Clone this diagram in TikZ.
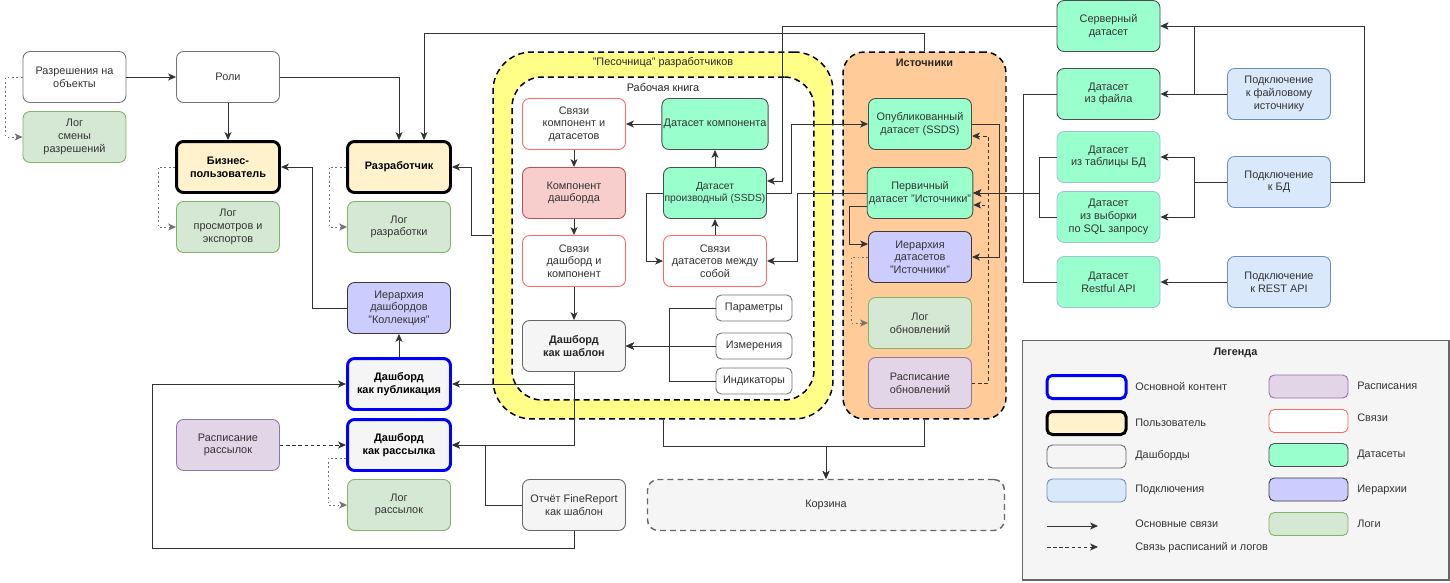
\documentclass[tikz,border=0pt]{standalone}
\usepackage{fontspec}
\setmainfont{Liberation Sans}
\usetikzlibrary{arrows.meta}

\definecolor{dsgreen}{HTML}{99FFCC}
\definecolor{dslightline}{HTML}{9DC3D9}
\definecolor{loggreen}{HTML}{D5E8D4}
\definecolor{logline}{HTML}{82B366}
\definecolor{schedpurple}{HTML}{E1D5E7}
\definecolor{schedline}{HTML}{9673A6}
\definecolor{hierblue}{HTML}{CCCCFF}
\definecolor{hierline}{HTML}{36393D}
\definecolor{connblue}{HTML}{DAE8FC}
\definecolor{connline}{HTML}{6C8EBF}
\definecolor{dashgray}{HTML}{F5F5F5}
\definecolor{dashline}{HTML}{666666}
\definecolor{useryellow}{HTML}{FFF2CC}
\definecolor{linkred}{HTML}{FF6666}
\definecolor{comppink}{HTML}{F8CECC}
\definecolor{compline}{HTML}{B85450}
\definecolor{sandyellow}{HTML}{FFFF88}
\definecolor{srcorange}{HTML}{FFCC99}
\definecolor{mainblue}{HTML}{0000FF}

\newcommand{\dgfont}{\fontsize{6.2}{7.2}\selectfont}

\tikzset{
    >={Stealth[length=4.5pt,width=4pt,inset=1.2pt]},
    box/.style={rounded corners=4pt, minimum width=2.06cm, minimum height=1.02cm,
        align=center, inner sep=1pt, font=\dgfont, text=black!80, line width=0.5pt},
    plainbox/.style={box, draw=black!55, fill=white},
    userbox/.style={box, draw=black, line width=1.7pt, fill=useryellow, font=\dgfont\bfseries, text=black},
    mainbox/.style={box, draw=mainblue, line width=1.7pt, fill=dashgray, font=\dgfont\bfseries, text=black},
    dashbox/.style={box, draw=dashline, fill=dashgray},
    logbox/.style={box, draw=logline, fill=loggreen},
    schedbox/.style={box, draw=schedline, fill=schedpurple},
    hierbox/.style={box, draw=hierline, fill=hierblue},
    databox/.style={box, draw=black!70, fill=dsgreen},
    databoxl/.style={box, draw=dslightline, fill=dsgreen},
    connbox/.style={box, draw=connline, fill=connblue},
    linkbox/.style={box, draw=linkred, fill=white},
    compbox/.style={box, draw=compline, fill=comppink},
    smallbox/.style={box, draw=black!55, fill=white, minimum width=1.52cm, minimum height=0.52cm, rounded corners=3pt},
    groupbox/.style={draw=black, line width=0.85pt, dash pattern=on 3.4pt off 2.3pt},
    grouptitle/.style={font=\dgfont, text=black!85, inner sep=1pt},
    link/.style={draw=black!80, line width=0.5pt},
    loglink/.style={draw=black!55, line width=0.5pt, dash pattern=on 1pt off 1.5pt},
    schedlink/.style={draw=black!80, line width=0.5pt, dash pattern=on 2pt off 1.5pt},
    legsw/.style={minimum width=1.58cm, minimum height=0.46cm, rounded corners=3pt},
    legtext/.style={anchor=west, font=\dgfont, text=black!80, inner sep=0pt},
}

\begin{document}
\begin{tikzpicture}[x=0.02cm, y=-0.02cm]
        \useasboundingbox (0,0) rectangle (1450,582);

        % Groups: sandbox, workbook, sources
        \node[groupbox, fill=sandyellow, rounded corners=22pt, minimum width=6.8cm, minimum height=7.34cm] (sandbox) at (663,235.5) {};
        \node[groupbox, fill=white, rounded corners=17pt, minimum width=6.04cm, minimum height=6.46cm] (workbook) at (663,238.5) {};
        \node[groupbox, fill=srcorange, rounded corners=12pt, minimum width=3.26cm, minimum height=7.34cm] (sources) at (924.5,235.5) {};
        \node[grouptitle] (sandboxtitle) at (663,63) {"Песочница" разработчиков};
        \node[grouptitle] (wbtitle) at (663,88) {Рабочая книга};
        \node[grouptitle, font=\dgfont\bfseries] (srctitle) at (924.5,63) {Источники};

        % Legend frame
        \node[draw=dashline, fill=dashgray, line width=0.6pt, minimum width=8.54cm, minimum height=4.8cm] (legend) at (1235.5,460) {};
        \node[grouptitle, font=\dgfont\bfseries] (legtitle) at (1235.5,353) {Легенда};

        % Roles and users
        \node[plainbox] (perm) at (74.5,77) {Разрешения на\\объекты};
        \node[logbox] (logperm) at (74.5,137) {Лог\\смены\\разрешений};
        \node[plainbox] (roles) at (228,77) {Роли};
        \node[userbox] (bizuser) at (228,167) {Бизнес-\\пользователь};
        \node[logbox] (logview) at (228,227) {Лог\\просмотров и\\экспортов};
        \node[userbox] (dev) at (399,167) {Разработчик};
        \node[logbox] (logdev) at (399,227) {Лог\\разработки};

        % Dashboards
        \node[hierbox] (collhier) at (399,308) {Иерархия\\дашбордов\\"Коллекция"};
        \node[mainbox] (dpub) at (399,384) {Дашборд\\как публикация};
        \node[mainbox] (dmail) at (399,445) {Дашборд\\как рассылка};
        \node[logbox] (logmail) at (399,505) {Лог\\рассылок};
        \node[schedbox] (schedmail) at (228,445) {Расписание\\рассылок};
        \node[dashbox] (frep) at (574,505) {Отчёт FineReport\\как шаблон};
        \node[dashbox, draw=dashline, line width=0.8pt, dash pattern=on 3.4pt off 2.3pt, rounded corners=6pt, minimum width=7.14cm] (trash) at (826,505) {Корзина};

        % Workbook content
        \node[linkbox] (linkcd) at (574,124) {Связи\\компонент и\\датасетов};
        \node[compbox] (compdash) at (574,193) {Компонент\\дашборда};
        \node[linkbox] (linkdc) at (574,261) {Связи\\дашборд и\\компонент};
        \node[dashbox, font=\dgfont\bfseries, text=black!85] (dtempl) at (574,346) {Дашборд\\как шаблон};
        \node[databox] (dscomp) at (715,124) {Датасет компонента};
        \node[databox, font=\fontsize{5.85}{7.2}\selectfont, inner sep=0pt] (dsderiv) at (715,193) {Датасет\\производный (SSDS)};
        \node[linkbox] (linkds) at (715,261) {Связи\\датасетов между\\собой};
        \node[smallbox] (params) at (754,308) {Параметры};
        \node[smallbox] (dims) at (754,346) {Измерения};
        \node[smallbox] (inds) at (754,381) {Индикаторы};

        % Sources content
        \node[databox] (dspub) at (920,124) {Опубликованный\\датасет (SSDS)};
        \node[databox] (dsprim) at (920,193) {Первичный\\датасет "Источники"};
        \node[hierbox] (dshier) at (920,257) {Иерархия\\датасетов\\"Источники"};
        \node[logbox] (logupd) at (920,323) {Лог\\обновлений};
        \node[schedbox] (schedupd) at (920,383) {Расписание\\обновлений};

        % External datasets and connections
        \node[databox] (dsserv) at (1108.5,26) {Серверный\\датасет};
        \node[databox] (dsfile) at (1108.5,94) {Датасет\\из файла};
        \node[databoxl] (dstable) at (1108.5,157) {Датасет\\из таблицы БД};
        \node[databoxl] (dssql) at (1108.5,217) {Датасет\\из выборки\\по SQL запросу};
        \node[databoxl] (dsrest) at (1108.5,282) {Датасет\\Restful API};
        \node[connbox] (cnfile) at (1279,94) {Подключение\\к файловому\\источнику};
        \node[connbox] (cndb) at (1279,182) {Подключение\\к БД};
        \node[connbox] (cnrest) at (1279,282) {Подключение\\к REST API};

        % Links on the left
        \draw[link,->] (perm) -- (roles);
        \draw[loglink,->] (perm.west) -- ++(-17,0) |- (logperm.west);
        \draw[link,->] (roles) -- (bizuser);
        \draw[link,->] (roles.east) -| (dev.north);
        \draw[link,->] (sources.north) -- ++(0,-18) -| ([xshift=0.5cm]dev.north);
        \draw[link,->] (collhier.west) -- ++(-35,0) |- (bizuser.east);
        \draw[link,->] (sandbox.west) -- ++(-21,0) |- (dev.east);
        \draw[loglink,->] (bizuser.west) -- ++(-17,0) |- (logview.west);
        \draw[loglink,->] (dev.west) -- ++(-17,0) |- (logdev.west);

        % Links of dashboards
        \draw[link,->] (dpub) -- (collhier);
        \draw[link,->] (frep.south) -- ++(0,17) -- ++(-422,0) |- (dpub.west);
        \draw[link,->] (dtempl.south) |- (dpub.east);
        \draw[link,->] (dtempl.south) |- (dmail.east);
        \draw[link,->] (frep.west) -- ++(-37,0) |- (dmail.east);
        \draw[schedlink,->] (schedmail) -- (dmail);
        \draw[loglink,->] ([yshift=-0.26cm]dmail.west) -- ++(-18,0) |- (logmail.west);
        \draw[link,->] (sandbox.south) -- ++(0,27) -| (trash.north);
        \draw[link,->] (sources.south) -- ++(0,27) -| (trash.north);

        % Links inside the workbook
        \draw[link,->] (dscomp) -- (linkcd);
        \draw[link,->] (linkcd) -- (compdash);
        \draw[link,->] (compdash) -- (linkdc);
        \draw[link,->] (linkdc) -- (dtempl);
        \draw[link,->] (dsderiv) -- (dscomp);
        \draw[link,->] (linkds) -- (dsderiv);
        \draw[link,->] (dsderiv.west) -- ++(-17,0) |- (linkds.west);
        \foreach \src in {params,inds}{
            \draw[link,->] (\src.west) -- ++(-46,0) |- (dtempl.east);
        }
        \draw[link,->] (dims.west) -- (dtempl.east);

        % Links of datasets
        \draw[link,->] (dsserv.west) -- ++(-274,0) |- ([yshift=0.24cm]dsderiv.east);
        \draw[link,->] (dsderiv.east) -- ++(24,0) |- (dspub.west);
        \draw[link,->] (dsprim.west) -- ++(-69,0) |- (linkds.east);
        \draw[link,->] ([yshift=-0.26cm]dsprim.west) -- ++(-17,0) |- ([yshift=0.26cm]dshier.west);
        \draw[loglink,->] (dshier.west) -- ++(-17,0) |- (logupd.west);
        \draw[link,->] (dspub.east) -- ++(27,0) |- (dshier.east);
        \foreach \dst in {dspub,dsprim}{
            \draw[schedlink,->] (schedupd.east) -- ++(16,0) |- ([yshift=-0.24cm]\dst.east);
        }
        \foreach \src in {dsfile,dsrest}{
            \draw[link,->] (\src.west) -- ++(-33,0) |- (dsprim.east);
        }
        \foreach \src in {dstable,dssql}{
            \draw[link,->] (\src.west) -- ++(-17,0) |- (dsprim.east);
        }

        % Links of connections
        \draw[link,->] (cnfile) -- (dsfile);
        \draw[link,->] (cnfile.west) -- ++(-33,0) |- (dsserv.east);
        \draw[link,->] (cndb.west) -- ++(-33,0) |- (dstable.east);
        \draw[link,->] (cndb.west) -- ++(-33,0) |- (dssql.east);
        \draw[link,->] (cndb.east) -- ++(33,0) |- (dsserv.east);
        \draw[link,->] (cnrest) -- (dsrest);

        % Legend swatches
        \node[mainbox, fill=white, legsw] (lgmain) at (1086.5,387) {};
        \node[userbox, legsw] (lguser) at (1086.5,423) {};
        \node[dashbox, legsw] (lgdash) at (1086.5,456.5) {};
        \node[connbox, legsw] (lgconn) at (1086.5,490.5) {};
        \node[schedbox, legsw] (lgsched) at (1308.5,386.5) {};
        \node[linkbox, legsw] (lglink) at (1308.5,421) {};
        \node[databox, legsw] (lgdata) at (1308.5,455) {};
        \node[hierbox, legsw] (lghier) at (1308.5,489.5) {};
        \node[logbox, legsw] (lglog) at (1308.5,524) {};
        \coordinate (lgarrA) at (1047,526);
        \coordinate (lgarrB) at (1098,526);
        \coordinate (lgdotA) at (1047,547);
        \coordinate (lgdotB) at (1098,547);
        \draw[link,->] (lgarrA) -- (lgarrB);
        \draw[schedlink,->] (lgdotA) -- (lgdotB);

        % Legend labels
        \foreach \y/\txt [count=\i] in {387/Основной контент, 423/Пользователь, 456/Дашборды, 490/Подключения, 524/Основные связи, 548/Связь расписаний и логов}{
            \node[legtext] (lgl\i) at (1135,\y) {\txt};
        }
        \foreach \y/\txt [count=\i] in {386/Расписания, 418/Связи, 455/Датасеты, 490/Иерархии, 524/Логи}{
            \node[legtext] (lgr\i) at (1357,\y) {\txt};
        }
\end{tikzpicture}
\end{document}
